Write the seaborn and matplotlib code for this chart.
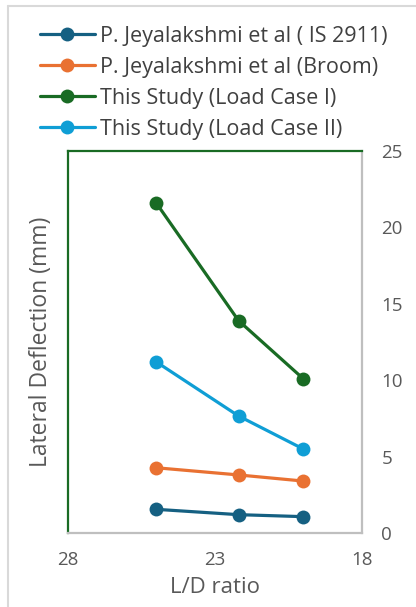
import matplotlib
matplotlib.use("Agg")
import matplotlib.pyplot as plt
from matplotlib.lines import Line2D
import pandas as pd
import seaborn as sns

# L/D ratios and lateral deflection (mm) for each series
ld_ratio = [25.0, 22.2, 20.0]
is2911 = [1.55, 1.20, 1.07]
broom = [4.27, 3.80, 3.40]
load_case_1 = [21.6, 13.9, 10.1]
load_case_2 = [11.2, 7.66, 5.50]

series_names = [
    "P. Jeyalakshmi et al ( IS 2911)",
    "P. Jeyalakshmi et al (Broom)",
    "This Study (Load Case I)",
    "This Study (Load Case II)",
]
series_values = [is2911, broom, load_case_1, load_case_2]
colors = ["#156082", "#E97132", "#196B24", "#0F9ED5"]

x_ticks = [28, 23, 18]
y_ticks = [0, 5, 10, 15, 20, 25]

rows = []
for name, vals in zip(series_names, series_values):
    for x, y in zip(ld_ratio, vals):
        rows.append({"L/D ratio": x, "Deflection": y, "Series": name})
df = pd.DataFrame(rows)

sns.set_style("white")
plt.rcParams["font.family"] = ["Open Sans", "DejaVu Sans"]
text_color = "#595959"

fig = plt.figure(figsize=(4.16, 6.07), dpi=100)
ax = fig.add_axes([68 / 416, 1 - 533 / 607, (362 - 68) / 416, (533 - 151) / 607])

sns.lineplot(
    data=df, x="L/D ratio", y="Deflection", hue="Series",
    hue_order=series_names, palette=colors, marker="o",
    markersize=10, markeredgewidth=0, linewidth=2.3, ax=ax, legend=False,
)

ax.set_xlim(28, 18)
ax.set_ylim(0, 25)
ax.set_xticks(x_ticks)
ax.set_yticks(y_ticks)
ax.yaxis.tick_right()
ax.yaxis.set_label_position("left")
ax.tick_params(axis="both", length=0, labelsize=13.5, colors=text_color)
ax.tick_params(axis="x", pad=13)
ax.tick_params(axis="y", pad=14)
ax.set_xlabel("L/D ratio", fontsize=16, color=text_color, labelpad=6)
ax.set_ylabel("Lateral Deflection (mm)", fontsize=16.5, color=text_color, labelpad=11)

for side in ["left", "top"]:
    ax.spines[side].set_color("#196B24")
    ax.spines[side].set_linewidth(1.6)
for side in ["right", "bottom"]:
    ax.spines[side].set_color("#BFBFBF")
    ax.spines[side].set_linewidth(1.6)

handles = [
    Line2D([], [], color=c, marker="o", markersize=10, markeredgewidth=0, linewidth=2.3)
    for c in colors
]
fig.legend(
    handles, series_names, loc="upper left",
    bbox_to_anchor=(40 / 416, 1 - 26 / 607), frameon=False,
    fontsize=15.5, labelcolor="#404040", handlelength=2.55, handletextpad=0.25,
    labelspacing=0.46, borderaxespad=0, borderpad=0,
)

# light outer frame along the top and left edges
fig.add_artist(Line2D([8 / 416, 1], [1 - 6 / 607, 1 - 6 / 607], color="#D9D9D9",
                      linewidth=1.5, transform=fig.transFigure))
fig.add_artist(Line2D([8 / 416, 8 / 416], [0, 1 - 6 / 607], color="#D9D9D9",
                      linewidth=1.5, transform=fig.transFigure))

fig.savefig("out.png", dpi=100)
